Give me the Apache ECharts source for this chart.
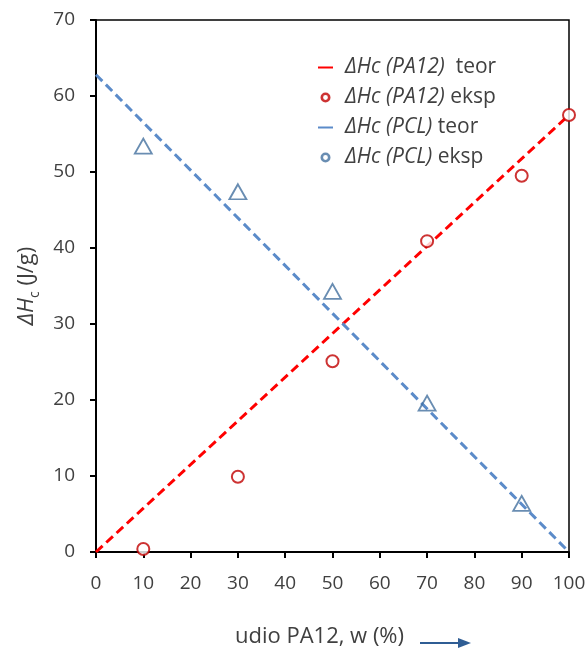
<!DOCTYPE html>
<html><head><meta charset="utf-8">
<script src="https://cdn.jsdelivr.net/npm/echarts@6/dist/echarts.min.js"></script>
<style>html,body{margin:0;padding:0;background:#fff}#c{width:587px;height:650px}</style>
</head><body><div id="c"></div>
<script>
// Data
const xTicks = [0,10,20,30,40,50,60,70,80,90,100];
const pa12TeorX = [0, 100];
const pa12TeorY = [0, 57.5];
const pclTeorX = [0, 100];
const pclTeorY = [62.8, 0];
const ekspX = [10, 30, 50, 70, 90, 100];
const pa12Eksp = [0.4, 9.9, 25.1, 40.9, 49.5, 57.5];
const pclEkspX = [10, 30, 50, 70, 90];
const pclEksp = [53.4, 47.4, 34.3, 19.6, 6.4];
const names = ['ΔHc (PA12)  teor','ΔHc (PA12) eksp','ΔHc (PCL) teor','ΔHc (PCL) eksp'];

const FONT = 'Open Sans';
const TXT = '#404040';
const RED = '#FF0000', DRED = '#C00000', BLUE = '#5B8BC9', DBLUE = '#44719F';
const LINE_ICON = 'path://M0,6 L15,6 L15,8 L0,8 Z';
const RING_ICON = 'path://M0,0 M14,14 M7,2 A5,5 0 1,1 7,12 A5,5 0 1,1 7,2 Z M7,4.6 A2.4,2.4 0 1,0 7,9.4 A2.4,2.4 0 1,0 7,4.6 Z';

const zip = (a,b) => a.map((v,i)=>[v,b[i]]);

const chart = echarts.init(document.getElementById('c'));
chart.setOption({
  animation:false,
  grid:{left:96,right:18,top:20,bottom:98,show:true,borderColor:'#000',borderWidth:1.5,
        containLabel:false,outerBoundsMode:'none'},
  legend:{
    orient:'vertical', left:313, top:52, itemGap:9, itemWidth:15, itemHeight:14,
    textStyle:{fontFamily:FONT,fontSize:21,color:TXT,padding:[0,0,0,7],
      rich:{i:{fontFamily:FONT,fontSize:21,fontStyle:'italic',color:TXT,lineHeight:26},
            n:{fontFamily:FONT,fontSize:21,color:TXT,lineHeight:26}}},
    formatter:function(name){
      const m = name.match(/^(ΔHc \([A-Z0-9]+\))(.*)$/);
      return '{i|'+m[1]+'}{n|'+m[2]+'}';
    },
    data:[
      {name:names[0],icon:LINE_ICON,itemStyle:{color:RED}},
      {name:names[1],icon:RING_ICON,itemStyle:{color:DRED,borderWidth:0}},
      {name:names[2],icon:LINE_ICON,itemStyle:{color:BLUE}},
      {name:names[3],icon:RING_ICON,itemStyle:{color:DBLUE,borderWidth:0}}
    ]
  },
  xAxis:{
    type:'value',min:0,max:100,interval:10,
    name:'udio PA12, w (%)',nameLocation:'middle',nameGap:74,
    nameTextStyle:{fontFamily:FONT,fontSize:22,color:TXT,padding:[0,26,0,0]},
    axisLine:{lineStyle:{color:'#000',width:2}},
    axisTick:{show:true,inside:false,length:6,lineStyle:{color:'#000',width:2}},
    axisLabel:{fontFamily:FONT,fontSize:19,color:TXT,margin:22},
    splitLine:{show:false}
  },
  yAxis:{
    type:'value',min:0,max:70,interval:10,
    name:'{i|ΔH}{s|c}{n| (J/g)}',nameLocation:'middle',nameGap:47,nameRotate:90,
    nameTextStyle:{fontFamily:FONT,fontSize:22,color:TXT,
      rich:{i:{fontFamily:FONT,fontSize:22,fontStyle:'italic',color:TXT,lineHeight:28,verticalAlign:'bottom'},
            s:{fontFamily:FONT,fontSize:14,color:TXT,lineHeight:28,verticalAlign:'bottom',padding:[0,0,-5,0]},
            n:{fontFamily:FONT,fontSize:22,color:TXT,lineHeight:28,verticalAlign:'bottom'}}},
    axisLine:{show:true,lineStyle:{color:'#000',width:2}},
    axisTick:{show:true,inside:false,length:6,lineStyle:{color:'#000',width:2}},
    axisLabel:{fontFamily:FONT,fontSize:19,color:TXT,margin:21},
    splitLine:{show:false}
  },
  series:[
    {name:names[0],type:'line',data:zip(pa12TeorX,pa12TeorY),showSymbol:false,symbol:'none',
     lineStyle:{color:RED,width:3,type:[9,5]},itemStyle:{color:RED},z:2},
    {name:names[1],type:'scatter',data:zip(ekspX,pa12Eksp),symbol:'circle',symbolSize:12,
     itemStyle:{color:'#fff',borderColor:DRED,borderWidth:2},z:4},
    {name:names[2],type:'line',data:zip(pclTeorX,pclTeorY),showSymbol:false,symbol:'none',
     lineStyle:{color:BLUE,width:3,type:[9,5]},itemStyle:{color:BLUE},z:2},
    {name:names[3],type:'scatter',data:zip(pclEkspX,pclEksp),symbol:'triangle',symbolSize:[17,15],
     itemStyle:{color:'rgba(255,255,255,0)',borderColor:DBLUE,borderWidth:1.8},z:4}
  ],
  graphic:[
    {type:'line',shape:{x1:420,y1:643,x2:460,y2:643},style:{stroke:'#2F5D94',lineWidth:2}},
    {type:'polygon',shape:{points:[[458,638],[471,643],[458,648]]},style:{fill:'#2F5D94'}}
  ]
});
</script></body></html>
